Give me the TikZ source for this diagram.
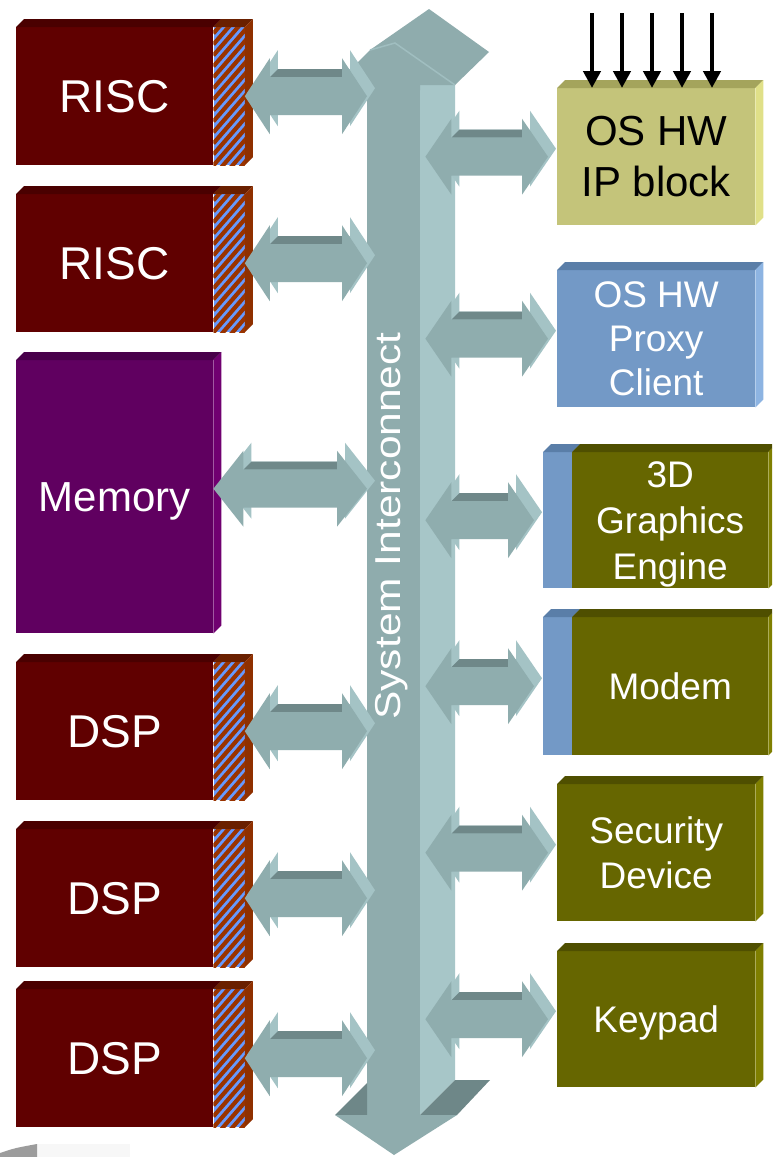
\documentclass[tikz,border=0pt]{standalone}
\usepackage{fontspec}
\setmainfont{Liberation Sans}
\usepackage{graphicx}
\usetikzlibrary{arrows.meta,calc}

% palette
\definecolor{cpuface}{HTML}{600000}
\definecolor{cputop}{HTML}{4A0000}
\definecolor{porttop}{HTML}{6A2000}
\definecolor{portside}{HTML}{8F3000}
\definecolor{stripebrown}{HTML}{993300}
\definecolor{stripeblue}{HTML}{6699FF}
\definecolor{memface}{HTML}{600060}
\definecolor{memtop}{HTML}{48004A}
\definecolor{memside}{HTML}{700070}
\definecolor{ipface}{HTML}{C4C47A}
\definecolor{iptop}{HTML}{A4A45C}
\definecolor{ipside}{HTML}{E0E088}
\definecolor{proxyface}{HTML}{7399C6}
\definecolor{proxytop}{HTML}{5A7EA8}
\definecolor{proxyside}{HTML}{8DB4E2}
\definecolor{oliveface}{HTML}{666600}
\definecolor{olivetop}{HTML}{4F4F00}
\definecolor{oliveside}{HTML}{7F7F00}
\definecolor{busface}{HTML}{8FACAD}
\definecolor{busside}{HTML}{A7C6C8}
\definecolor{busdark}{HTML}{6E8788}
\definecolor{arrowface}{HTML}{8FADAE}
\definecolor{arrowback}{HTML}{A4C3C5}
\definecolor{arrowtop}{HTML}{6F8889}
\definecolor{leftover}{HTML}{9C9C9C}

\tikzset{
  facebox/.style={draw=none, inner sep=0pt, anchor=north west, text=white},
  cpu/.style={facebox, fill=cpuface, minimum width=197pt, minimum height=138pt,
    font=\fontsize{46}{55}\selectfont, text depth=0pt},
  port/.style={facebox, fill=stripeblue, minimum width=31pt, minimum height=138pt},
  mem/.style={facebox, fill=memface, minimum width=197pt, minimum height=273pt,
    font=\fontsize{42}{50}\selectfont, text depth=0pt},
  rbox/.style={facebox, minimum width=198pt, minimum height=137pt, align=center},
  hatchline/.style={stripebrown, line width=4.2pt},
  inarrow/.style={line width=4.6pt, -{Triangle[width=17pt,length=17pt]}},
  buslabel/.style={rotate=90, text=white, inner sep=0pt, font=\fontsize{36}{42}\selectfont},
}

% faces of the extruded boxes
\newcommand\topface[2]{\fill[#2] (#1.north west) -- ++(8,-8) -- ($(#1.north east)+(8,-8)$) -- (#1.north east) -- cycle;}
\newcommand\sideface[2]{\fill[#2] (#1.north east) -- ++(8,-8) -- ($(#1.south east)+(8,-8)$) -- (#1.south east) -- cycle;}
% diagonal hatching of a port panel
\newcommand\porthatch[1]{%
  \begin{scope}
    \clip (#1.south west) rectangle (#1.north east);
    \foreach \k in {-4,...,13}
      \draw[hatchline] ($(#1.south west)+(0,{-11*(\k)})$) -- ++(40,-46);
  \end{scope}}
% outline of a flat double arrow: left x, right x, centre y, head length
\newcommand\arrowpath[4]{(#1,#3) -- ({#1+#4},{#3+38pt}) -- ({#1+#4},{#3+19pt}) -- ({#2-#4},{#3+19pt}) -- ({#2-#4},{#3+38pt}) -- (#2,#3) -- ({#2-#4},{#3-38pt}) -- ({#2-#4},{#3-19pt}) -- ({#1+#4},{#3-19pt}) -- ({#1+#4},{#3-38pt}) -- cycle}
% extruded double arrow between two points at the same height
\newcommand\blockarrow[3]{%
  \fill[arrowback] let \p1=#1, \p2=#2 in \arrowpath{\x1+8pt}{\x2+8pt}{\y1+8pt}{#3};
  \fill[arrowtop] let \p1=#1, \p2=#2 in ({\x1+#3},{\y1+19pt}) -- ({\x1+#3+8pt},{\y1+27pt}) -- ({\x2-#3},{\y1+27pt}) -- ({\x2-#3},{\y1+19pt}) -- cycle;
  \fill[arrowface] let \p1=#1, \p2=#2 in \arrowpath{\x1}{\x2}{\y1}{#3};}

\begin{document}
\begin{tikzpicture}[x=1pt,y=-1pt]
\useasboundingbox (0,0) rectangle (772,1157);
\fill[white] (0,0) rectangle (772,1157);
\clip (0,0) rectangle (772,1157);

% ---------- system interconnect ----------
\fill[busside] (420,85) -- (455,85) -- (455,1080) -- (420,1115) -- cycle;
\fill[busdark] (420,1115) -- (455,1080) -- (490,1080) -- (457,1115) -- cycle;
\node[facebox, fill=busface, minimum width=53pt, minimum height=1027pt] (bus) at (367,88) {};
\fill[busdark] (367,1083) -- (367,1115) -- (335,1115) -- cycle;
\fill[busface] (335,1115) -- (394,1155) -- (457,1115) -- cycle;
\fill[busface] (367,90) -- (357,63) -- (370,50) -- (429,9) -- (489,52) -- (455,85) -- (420,85) -- (420,90) -- cycle;
\draw[busside!70!busface, line width=1.5pt] (370,50) -- (395,43) -- (455,85);
\node[buslabel] (busname) at (391.5,526) {\scalebox{1.18}[1]{System Interconnect}};

% ---------- processors and memory ----------
\node[cpu] (risc1) at (16,27) {RISC};
\node[port] (risc1p) at (risc1.north east) {};
\node[cpu] (risc2) at (16,194) {RISC};
\node[port] (risc2p) at (risc2.north east) {};
\node[mem] (memory) at (16,360) {Memory};
\node[cpu] (dsp1) at (16,662) {DSP};
\node[port] (dsp1p) at (dsp1.north east) {};
\node[cpu] (dsp2) at (16,829) {DSP};
\node[port] (dsp2p) at (dsp2.north east) {};
\node[cpu] (dsp3) at (16,989) {DSP};
\node[port] (dsp3p) at (dsp3.north east) {};

\foreach \b in {risc1,risc2,dsp1,dsp2,dsp3}{
  \topface{\b}{cputop}
  \topface{\b p}{porttop}
  \sideface{\b p}{portside}
  \porthatch{\b p}
}
\topface{memory}{memtop}
\sideface{memory}{memside}

% ---------- peripherals ----------
\node[rbox, fill=ipface, text=black, font=\fontsize{42}{51}\selectfont] (ipblock) at (557,88) {OS HW\\IP block};
\node[rbox, fill=proxyface, font=\fontsize{37}{44}\selectfont] (proxy) at (557,270) {OS HW\\Proxy\\Client};
\node[facebox, fill=proxyface, minimum width=29pt, minimum height=136pt] (gfxp) at (543,452) {};
\node[rbox, fill=oliveface, minimum width=196pt, minimum height=136pt, font=\fontsize{37}{46}\selectfont] (gfx) at (572,452) {\rule{0pt}{34pt}3D\\Graphics\\Engine};
\node[facebox, fill=proxyface, minimum width=29pt, minimum height=138pt] (modemp) at (543,617) {};
\node[rbox, fill=oliveface, minimum width=196pt, minimum height=138pt, text depth=0pt, font=\fontsize{37}{44}\selectfont] (modem) at (572,617) {Modem};
\node[rbox, fill=oliveface, font=\fontsize{37}{45}\selectfont] (security) at (557,784) {Security\\Device};
\node[rbox, fill=oliveface, minimum height=136pt, text depth=0pt, font=\fontsize{37}{44}\selectfont] (keypad) at (557,951) {Keypad};

\topface{ipblock}{iptop}      \sideface{ipblock}{ipside}
\topface{proxy}{proxytop}     \sideface{proxy}{proxyside}
\topface{gfxp}{proxytop}
\topface{gfx}{olivetop}       \sideface{gfx}{oliveside}
\topface{modemp}{proxytop}
\topface{modem}{olivetop}     \sideface{modem}{oliveside}
\topface{security}{olivetop}  \sideface{security}{oliveside}
\topface{keypad}{olivetop}    \sideface{keypad}{oliveside}

% ---------- links to the interconnect ----------
\foreach \b in {risc1p,risc2p,dsp1p,dsp2p,dsp3p}{
  \blockarrow{(\b.east)}{(bus.west |- \b.east)}{25pt}
}
\blockarrow{($(memory.east)+(0,-8)$)}{($(bus.west |- memory.east)+(0,-8)$)}{30pt}
\foreach \b in {ipblock,proxy,gfxp,modemp,security,keypad}{
  \blockarrow{($(bus.east |- \b.west)+(5,0)$)}{($(\b.west)+(-9,0)$)}{26pt}
}

% ---------- external inputs ----------
\foreach \i/\x in {1/592,2/622,3/652,4/682,5/712}{
  \coordinate (in\i) at (\x,13);
  \draw[inarrow] (in\i) -- (in\i |- ipblock.north);
}

% ---------- stray shape at the lower left ----------
\fill[black!3] (37,1144) rectangle (130,1157);
\fill[leftover] (0,1153) .. controls (15,1148) .. (37,1144) -- (37,1157) -- (0,1157) -- cycle;
\end{tikzpicture}
\end{document}
